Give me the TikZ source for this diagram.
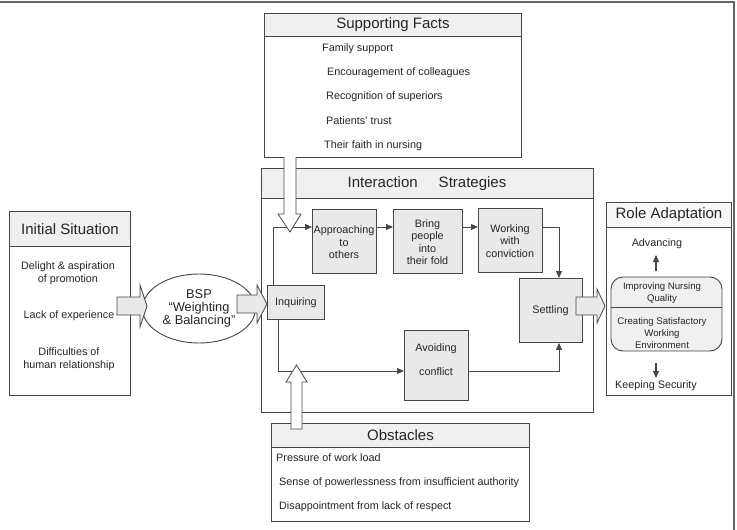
\documentclass[tikz,border=0pt]{standalone}
\usepackage{fontspec}
\setmainfont{Liberation Sans}
\usetikzlibrary{arrows.meta,calc}
\begin{document}
\begin{tikzpicture}[x=1pt,y=-1pt,
  ln/.style={draw=black!72,line width=0.9pt},
  frame/.style={ln,fill=white,inner sep=0pt,anchor=north west},
  hdr/.style={ln,fill=gray!12,inner sep=0pt,anchor=north west,font=\fontsize{15}{16}\selectfont,text=black!85},
  stepbox/.style={ln,fill=gray!17,inner sep=0pt,anchor=north west},
  txt/.style={font=\fontsize{10.8}{12.5}\selectfont,text=black!85,align=center,inner sep=0pt},
  ltxt/.style={txt,anchor=west},
  stxt/.style={font=\fontsize{9.6}{12}\selectfont,text=black!85,align=center,inner sep=0pt},
  conn/.style={ln,line width=0.8pt,-{Triangle[length=7pt,width=6pt]}},
  fatg/.style={ln,line width=0.8pt,fill=gray!17,line join=miter},
  fatw/.style={ln,line width=0.8pt,fill=white,line join=miter}]
\useasboundingbox (0,0) rectangle (737,530);
% outer frame (top and right)
\draw[ln,line width=1.2pt,draw=black!60] (0,2) -- (734,2) -- (734,530);

% Initial Situation
\node[frame,minimum width=121pt,minimum height=184pt] (init) at (9,211) {};
\node[hdr,minimum width=121pt,minimum height=35pt] (initH) at (9,211) {Initial Situation};
\node[txt] (i1) at (68,273) {Delight \& aspiration\\of promotion};
\node[txt] (i2) at (69,316) {Lack of experience};
\node[txt] (i3) at (69,359) {Difficulties of\\human relationship};

% BSP ellipse
\draw[ln,fill=white] (199,308.5) ellipse [x radius=56.5,y radius=34.5];
\node[font=\fontsize{12.8}{13}\selectfont,text=black!85,align=center,inner sep=0pt] (bsp) at (199,308) {BSP\\“Weighting\\\& Balancing”};

% Supporting Facts
\node[frame,minimum width=257pt,minimum height=144pt] (sup) at (264,13) {};
\node[hdr,minimum width=257pt,minimum height=23pt] (supH) at (264,13) {Supporting Facts};
\node[ltxt] (s1) at (322,49) {Family support};
\node[ltxt] (s2) at (327,73) {Encouragement of colleagues};
\node[ltxt] (s3) at (326,97) {Recognition of superiors};
\node[ltxt] (s4) at (326,121) {Patients' trust};
\node[ltxt] (s5) at (324,146) {Their faith in nursing};

% Interaction Strategies
\node[frame,minimum width=332pt,minimum height=244pt] (inter) at (261,168) {};
\node[hdr,minimum width=332pt,minimum height=30pt] (interH) at (261,168) {};
\node[font=\fontsize{15}{16}\selectfont,text=black!85,inner sep=0pt] (interT) at (427,184) {Interaction\hspace{21pt}Strategies};

\node[stepbox,minimum width=57pt,minimum height=34pt] (inq) at (267,285) {};
\node[txt] at (inq.center) {Inquiring};
\node[stepbox,minimum width=64pt,minimum height=64pt] (appr) at (312,209) {};
\node[txt] at (344,242.5) {Approaching\\to\\others};
\node[stepbox,minimum width=69pt,minimum height=64pt] (bring) at (393,209) {};
\node[txt] at (427.5,242) {Bring\\people\\into\\their fold};
\node[stepbox,minimum width=64pt,minimum height=64pt] (work) at (478,208) {};
\node[txt] at (510,241) {Working\\with\\conviction};
\node[stepbox,minimum width=63pt,minimum height=64pt] (settle) at (519,278) {};
\node[txt] at (550.5,311) {Settling};
\node[stepbox,minimum width=64pt,minimum height=70pt] (avoid) at (404,330) {};
\node[txt] at (436,360) {Avoiding\\[11.5pt]conflict};

\coordinate (c1) at (273,227);
\coordinate (c2) at (559,227);
\coordinate (c3) at (278,371);
\draw[conn] (c1 |- inq.north) -- (c1) -- (appr.west |- c1);
\draw[conn] (appr.east |- c1) -- (bring.west |- c1);
\draw[conn] (bring.east |- c1) -- (work.west |- c1);
\draw[conn] (work.east |- c1) -- (c2) -- (c2 |- settle.north);
\draw[conn] (c3 |- inq.south) -- (c3) -- (avoid.west |- c3);
\draw[conn] (avoid.east |- c3) -- (c2 |- c3) -- (c2 |- settle.south);

% Obstacles
\node[frame,minimum width=258pt,minimum height=98pt] (obs) at (271,423) {};
\node[hdr,minimum width=258pt,minimum height=24pt] (obsH) at (271,423) {Obstacles};
\node[ltxt] (o1) at (276,458) {Pressure of work load};
\node[ltxt] (o2) at (279,483) {Sense of powerlessness from insufficient authority};
\node[ltxt] (o3) at (279,507) {Disappointment from lack of respect};

% Role Adaptation
\node[frame,minimum width=125pt,minimum height=193pt] (role) at (606,202) {};
\node[hdr,fill=gray!6,minimum width=125pt,minimum height=25pt] (roleH) at (606,202) {Role Adaptation};
\node[txt] (adv) at (657,244) {Advancing};
\node[txt] (keep) at (656,386) {Keeping Security};
\node[ln,fill=gray!12,rounded corners=12pt,minimum width=111pt,minimum height=74pt,inner sep=0pt] (rb) at (666.5,314) {};
\draw[ln,line width=0.8pt] (rb.west |- 0,307) -- (rb.east |- 0,307);
\node[stxt] at (662,293) {Improving Nursing\\Quality};
\node[stxt] at (662,333) {Creating Satisfactory\\Working\\Environment};
\coordinate (u1) at (656,271);
\coordinate (u2) at (656,255);
\coordinate (d1) at (656,363);
\coordinate (d2) at (656,378);
\draw[conn,line width=1.1pt] (u1) -- (u2);
\draw[conn,line width=1.1pt] (d1) -- (d2);

% fat arrows
\draw[fatg] (117,297) -- (140,297) -- (140,285) -- (147,306) -- (140,327) -- (140,315) -- (117,315) -- cycle;
\draw[fatg] (237,295) -- (257,295) -- (257,285) -- (267,304) -- (257,323) -- (257,313) -- (237,313) -- cycle;
\draw[fatg] (576,297) -- (597,297) -- (597,289) -- (605,306) -- (597,323) -- (597,315) -- (576,315) -- cycle;
\draw[fatw] (284,157) -- (284,214) -- (278,214) -- (290,232) -- (301,214) -- (296,214) -- (296,157);
\draw[fatw] (291,429) -- (291,382) -- (286,382) -- (296.5,365) -- (307,382) -- (302,382) -- (302,429) -- cycle;
\end{tikzpicture}
\end{document}
